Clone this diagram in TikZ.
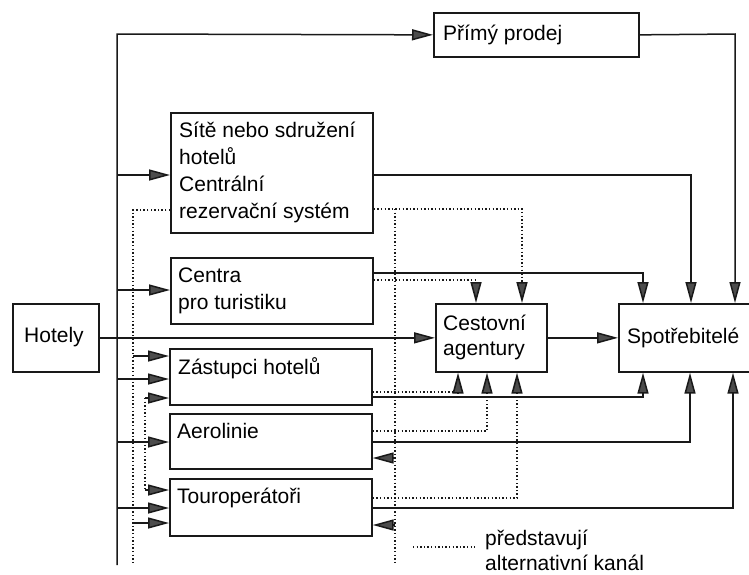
\documentclass[tikz,border=0pt]{standalone}
\usepackage{fontspec}
\setmainfont{Liberation Sans}
\usetikzlibrary{arrows.meta}
\newcommand\mytop{\rule{0pt}{22pt}}
\begin{document}
\begin{tikzpicture}[x=1pt,y=-1pt,
  box/.style={draw=black!90, line width=1.7pt, anchor=north west, inner sep=0pt},
  txt/.style={inner sep=0pt, font=\fontsize{21}{27}\selectfont, text=black, align=left},
  ln/.style={draw=black!90, line width=1.5pt},
  dot/.style={draw=black!90, line width=1.6pt, dash pattern=on 1.4pt off 2.2pt},
  tip/.style={-{Triangle[length=21pt,width=11pt,fill=black!70]}},
]
\useasboundingbox (0,0) rectangle (749,574);
\clip (0,0) rectangle (749,574);

% boxes
\node[box, minimum width=205pt, minimum height=44pt] (pp) at (433,12) {};
\node[box, minimum width=202pt, minimum height=120pt] (sit) at (170,112) {};
\node[box, minimum width=202pt, minimum height=66pt] (cen) at (170,257) {};
\node[box, minimum width=86pt, minimum height=68pt] (hot) at (12,303) {};
\node[box, minimum width=202pt, minimum height=56pt] (zas) at (169,348) {};
\node[box, minimum width=202pt, minimum height=55pt] (aer) at (169,413) {};
\node[box, minimum width=202pt, minimum height=57pt] (tou) at (169,478) {};
\node[box, minimum width=111pt, minimum height=68pt] (ces) at (435,303) {};
\node[box, minimum width=150pt, minimum height=68pt] (spo) at (618,303) {};

% texts
\node[txt, anchor=base west] (tpp) at (443,40) {Přímý prodej};
\node[txt, anchor=north west] (tsit) at (179,115) {\mytop Sítě nebo sdružení\\hotelů\\Centrální\\rezervační systém};
\node[txt, anchor=north west] (tcen) at (178,260) {\mytop Centra\\pro turistiku};
\node[txt, anchor=base west] (thot) at (24,342) {Hotely};
\node[txt, anchor=base west] (tzas) at (178,374) {Zástupci hotelů};
\node[txt, anchor=base west] (taer) at (177,438) {Aerolinie};
\node[txt, anchor=base west] (ttou) at (177,503) {Touroperátoři};
\node[txt, anchor=north west, font=\fontsize{21}{25.5}\selectfont] (tces) at (443,308) {\mytop Cestovní\\agentury};
\node[txt, anchor=base west] (tspo) at (627,343) {Spotřebitelé};

% trunk from hotels
\coordinate (tt) at (117,34);
\coordinate (tb) at (117,565);
\draw[ln,tip] (tb) -- (tt) -- (pp.west);
\draw[ln,tip] (hot.east) -- (ces.west);
\draw[ln,tip] (117,175) -- (sit.west |- 117,175);
\draw[ln,tip] (117,290) -- (cen.west |- 117,290);
\draw[ln,tip] (117,379) -- (zas.west |- 117,379);
\draw[ln,tip] (117,442) -- (aer.west |- 117,442);
\draw[ln,tip] (117,508) -- (tou.west |- 117,508);

% dotted left
\draw[dot] (sit.west |- 0,210) -- (133,210) -- (133,565);
\draw[ln,tip] (133,356) -- (zas.west |- 0,356);
\draw[ln,tip] (133,523) -- (tou.west |- 0,523);
\draw[dot] (145,398) -- (145,490);
\draw[ln,tip] (145,398) -- (zas.west |- 0,398);
\draw[ln,tip] (145,490) -- (tou.west |- 0,490);

% right solid
\draw[ln,tip] (pp.east) -- (735,34) -- (spo.north -| 735,0);
\draw[ln,tip] (sit.east |- 0,175) -- (691,175) -- (spo.north -| 691,0);
\draw[ln,tip] (cen.east |- 0,273) -- (643,273) -- (spo.north -| 643,0);
\draw[ln,tip] (ces.east) -- (spo.west);
\draw[ln,tip] (zas.east |- 0,397) -- (643,397) -- (spo.south -| 643,0);
\draw[ln,tip] (aer.east |- 0,442) -- (690,442) -- (spo.south -| 690,0);
\draw[ln,tip] (tou.east |- 0,508) -- (733,508) -- (spo.south -| 733,0);

% right dotted
\draw[dot,tip] (sit.east |- 0,209) -- (522,209) -- (ces.north -| 522,0);
\draw[dot] (395,209) -- (395,565);
\draw[ln,tip] (395,458) -- (aer.east |- 0,458);
\draw[ln,tip] (395,525) -- (tou.east |- 0,525);
\draw[dot,tip] (cen.east |- 0,280) -- (476,280) -- (ces.north -| 476,0);
\draw[dot,tip] (zas.east |- 0,392) -- (458,392) -- (ces.south -| 458,0);
\draw[dot,tip] (aer.east |- 0,431) -- (487,431) -- (ces.south -| 487,0);
\draw[dot,tip] (tou.east |- 0,498) -- (517,498) -- (ces.south -| 517,0);

% legend
\draw[dot] (413,547) -- (475,547);
\node[txt, anchor=north west, font=\fontsize{21}{25}\selectfont] (leg) at (485,523) {\mytop představují\\alternativní kanál};
\end{tikzpicture}
\end{document}
